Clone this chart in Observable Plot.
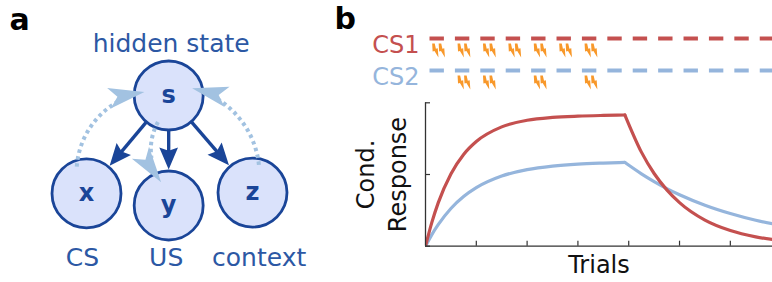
<!DOCTYPE html>
<html><head><meta charset="utf-8">
<script src="https://cdn.jsdelivr.net/npm/d3@7"></script>
<script src="https://cdn.jsdelivr.net/npm/@observablehq/plot@0.6"></script>
<style>
html,body{margin:0;padding:0;background:#fff;overflow:hidden}
#fig{position:relative;width:772px;height:282px;overflow:hidden;font-family:"DejaVu Sans"}
#fig > div{position:absolute}
</style></head><body>
<div id="fig"><div id="pa" style="left:0;top:0"></div><div id="pb2" style="left:330px;top:90px"></div><div id="pb1" style="left:330px;top:0"></div></div>
<script>
// ---------- Panel a: graphical model (layout units) ----------
const nodeIds = ["s", "x", "y", "z"];
const nodeCol = [1.99, 1.0, 1.99, 3.0];
const nodeRow = [0, 1.18, 1.325, 1.17];
const titleText = "hidden state";
const titleCol = 2.02, titleRow = -0.62;
const roleLabels = ["CS", "US", "context"];
const roleCol = [0.95, 1.96, 3.08];
const roleRow = 1.955;
const edges = [["s", "x"], ["s", "y"], ["s", "z"]];
const arcSource = ["x", "z", "s"];
const arcTarget = ["s", "s", "y"];
const arcExit = [-110, -77, 112];
const arcEntry = [-172, -17, -108];
const arcBend = [38, -35, -32];

// ---------- Panel b ----------
const csNames = ["CS1", "CS2"];
const trials = [1, 2, 3, 4, 5, 6, 7, 8, 9, 10, 11, 12, 13, 14];
const usTrialsCS1 = [1, 2, 3, 4, 5, 6, 7];
const usTrialsCS2 = [2, 3, 5, 7];
const acqT = [0, 0.25, 0.5, 1, 1.5, 2, 3, 4, 5, 6, 7, 7.85];
const extT = [7.85, 8.5, 9, 9.5, 10, 11, 12, 13, 14];
const cs1Acq = [0, 0.166, 0.302, 0.504, 0.640, 0.730, 0.832, 0.878, 0.898, 0.907, 0.912, 0.915];
const cs1Ext = [0.915, 0.656, 0.507, 0.393, 0.304, 0.182, 0.109, 0.065, 0.039];
const cs2Acq = [0, 0.081, 0.150, 0.263, 0.346, 0.408, 0.489, 0.534, 0.559, 0.573, 0.580, 0.584];
const cs2Ext = [0.584, 0.505, 0.451, 0.402, 0.359, 0.286, 0.228, 0.181, 0.145];
const xTicks = [2, 4, 6, 8, 10, 12];
const yTicks = [0, 0.5, 1];

// ---------- styles ----------
const darkBlue = "#1a4598", nodeFill = "#dae2fb", labelBlue = "#2c58a4";
const lightBlue = "#a2c2e1", red = "#c4504f", blue = "#95b5dc", orange = "#f8982a";
const U = 83, R = 34.5;
const font = {fontFamily: "DejaVu Sans", background: "none", overflow: "visible"};
const deg = 180 / Math.PI;

const solidHead = {draw(ctx, size) {
  const r = Math.sqrt(size / Math.PI);
  ctx.moveTo(0, 0); ctx.lineTo(-2 * r, -0.85 * r); ctx.lineTo(-1.7 * r, 0); ctx.lineTo(-2 * r, 0.85 * r); ctx.closePath();
}};
const notchHead = {draw(ctx, size) {
  const r = Math.sqrt(size / Math.PI);
  ctx.moveTo(0, 0); ctx.lineTo(-2 * r, -0.58 * r); ctx.lineTo(-1.52 * r, 0); ctx.lineTo(-2 * r, 0.58 * r); ctx.closePath();
}};
const bolt = {draw(ctx, size) {
  const k = Math.sqrt(size / Math.PI) / 6;
  const p = [[-2.6, -6], [-0.4, -6], [0.6, -1.4], [2.2, -1.9], [2.8, 6], [-0.6, 0.4], [-2.2, 0.9]];
  ctx.moveTo(p[0][0] * k, p[0][1] * k);
  for (let i = 1; i < p.length; i++) ctx.lineTo(p[i][0] * k, p[i][1] * k);
  ctx.closePath();
}};

const nodes = nodeIds.map((id, i) => ({id, col: nodeCol[i], row: nodeRow[i]}));
const nodeById = Object.fromEntries(nodes.map(n => [n.id, n]));

const edgeGeom = edges.map(([a, b]) => {
  const s = nodeById[a], t = nodeById[b];
  const dx = t.col - s.col, dy = t.row - s.row, L = Math.hypot(dx, dy);
  const ux = dx / L, uy = dy / L;
  const tx = t.col - ux * (R + 1.5) / U, ty = t.row - uy * (R + 1.5) / U;
  return {x1: s.col + ux * R / U, y1: s.row + uy * R / U, x2: tx - ux * 13 / U, y2: ty - uy * 13 / U, tx, ty, angle: Math.atan2(uy, ux) * deg};
});

const arcGeom = arcSource.map((a, i) => {
  const s = nodeById[arcSource[i]], t = nodeById[arcTarget[i]];
  const e1 = arcExit[i] / deg, e2 = arcEntry[i] / deg;
  const x1 = s.col + Math.cos(e1) * (R - 6) / U, y1 = s.row + Math.sin(e1) * (R - 6) / U;
  const tx = t.col + Math.cos(e2) * (R - 10) / U, ty = t.row + Math.sin(e2) * (R - 10) / U;
  const chord = Math.atan2(ty - y1, tx - x1) * deg;
  return {x1, y1, x2: tx, y2: ty, tx, ty, bend: arcBend[i], angle: chord + arcBend[i]};
});

const plotA = Plot.plot({
  width: 340, height: 282, margin: 0,
  x: {domain: [0, 4], range: [3, 3 + 4 * U], axis: null},
  y: {domain: [0, 1], range: [95, 95 + U], axis: null},
  style: font,
  marks: [
    Plot.text(["a"], {frameAnchor: "top-left", textAnchor: "start", lineAnchor: "top", dx: 9, dy: 8.5, fontSize: 30, fontWeight: "bold", fill: "#000"}),
    Plot.text([titleText], {x: () => titleCol, y: () => titleRow, fontSize: 25, fill: labelBlue}),
    Plot.dot(nodes, {x: "col", y: "row", r: R, fill: nodeFill, stroke: darkBlue, strokeWidth: 2.8}),
    Plot.link(edgeGeom, {x1: "x1", y1: "y1", x2: "x2", y2: "y2", stroke: darkBlue, strokeWidth: 3.4}),
    Plot.dot(edgeGeom, {x: "tx", y: "ty", rotate: "angle", symbol: solidHead, r: 11, fill: darkBlue, stroke: "none"}),
    ...arcGeom.map(a => Plot.arrow([a], {x1: "x1", y1: "y1", x2: "x2", y2: "y2", bend: a.bend, insetEnd: 26, headLength: 0, stroke: lightBlue, strokeWidth: 4, strokeLinecap: "butt", strokeDasharray: "3.5,3.5"})),
    Plot.dot(arcGeom, {x: "tx", y: "ty", rotate: "angle", symbol: notchHead, r: 18, fill: lightBlue, stroke: "none"}),
    Plot.text(nodes, {x: "col", y: "row", text: "id", fontSize: 24, fontWeight: "bold", fill: darkBlue}),
    Plot.text(roleLabels, {x: (d, i) => roleCol[i], y: () => roleRow, text: d => d, fontSize: 25, fill: labelBlue})
  ]
});
document.getElementById("pa").append(plotA);

// ---------- Panel b timeline ----------
const dashData = csNames.flatMap(cs => trials.map(t => ({cs, trial: t})));
const boltData = [
  ...usTrialsCS1.map(t => ({cs: "CS1", trial: t})),
  ...usTrialsCS2.map(t => ({cs: "CS2", trial: t}))
];
const colorScale = {domain: csNames, range: [red, blue]};
const plotB1 = Plot.plot({
  width: 442, height: 95, marginLeft: 95, marginRight: 0, marginTop: 0, marginBottom: 0,
  x: {domain: [0, 13.66], range: [95, 442], axis: null},
  y: {type: "point", domain: csNames, range: [37.5, 69.5], padding: 0, axis: null},
  color: colorScale,
  style: font,
  marks: [
    Plot.text(["b"], {frameAnchor: "top-left", textAnchor: "start", lineAnchor: "top", dx: -91, dy: 7.5, fontSize: 30, fontWeight: "bold", fill: "#000"}),
    Plot.text(csNames, {y: d => d, frameAnchor: "left", textAnchor: "end", lineAnchor: "middle", dx: -6, dy: 6.5, fontSize: 24, fill: d => d}),
    Plot.ruleY(dashData, {y: "cs", x1: d => d.trial - 1, x2: "trial", insetLeft: 4.5, insetRight: 6.5, stroke: "cs", strokeWidth: 4, clip: true}),
    Plot.dot(boltData, {x: d => d.trial - 0.5, y: "cs", dx: -3, dy: 12, symbol: bolt, r: 7, fill: orange, stroke: "none"}),
    Plot.dot(boltData, {x: d => d.trial - 0.5, y: "cs", dx: 3.5, dy: 12, symbol: bolt, r: 7, fill: orange, stroke: "none"})
  ]
});
document.getElementById("pb1").append(plotB1);

// ---------- Panel b curves ----------
const rows = [
  ...acqT.map((t, i) => ({t, v: cs2Acq[i], cs: "CS2", phase: "acq"})),
  ...extT.map((t, i) => ({t, v: cs2Ext[i], cs: "CS2", phase: "ext"})),
  ...acqT.map((t, i) => ({t, v: cs1Acq[i], cs: "CS1", phase: "acq"})),
  ...extT.map((t, i) => ({t, v: cs1Ext[i], cs: "CS1", phase: "ext"}))
];
const plotB2 = Plot.plot({
  width: 442, height: 192, marginLeft: 95, marginRight: 0, marginTop: 12.3, marginBottom: 36.3,
  x: {domain: [0, 13.66]},
  y: {domain: [0, 1]},
  color: colorScale,
  style: font,
  marks: [
    Plot.line(rows, {x: "t", y: "v", z: d => d.cs + d.phase, stroke: "cs", strokeWidth: 3.2, curve: "monotone-x", clip: true}),
    Plot.ruleX([0], {stroke: "#333", strokeWidth: 1.3}),
    Plot.ruleY([0], {stroke: "#333", strokeWidth: 1.3}),
    Plot.axisY({ticks: yTicks, tickSize: -5, tickFormat: () => "", label: null, stroke: "#333", strokeWidth: 1.2}),
    Plot.axisX({ticks: xTicks, tickSize: -5, tickFormat: () => "", label: null, stroke: "#333", strokeWidth: 1.2}),
    Plot.text(["Cond.\nResponse"], {frameAnchor: "left", textAnchor: "middle", lineAnchor: "middle", rotate: -90, dx: -45.5, fontSize: 24, lineHeight: 1.3, fill: "#111"}),
    Plot.text(["Trials"], {frameAnchor: "bottom", textAnchor: "middle", lineAnchor: "middle", dy: 19.6, fontSize: 24, fill: "#111"})
  ]
});
document.getElementById("pb2").append(plotB2);
</script>
</body></html>
